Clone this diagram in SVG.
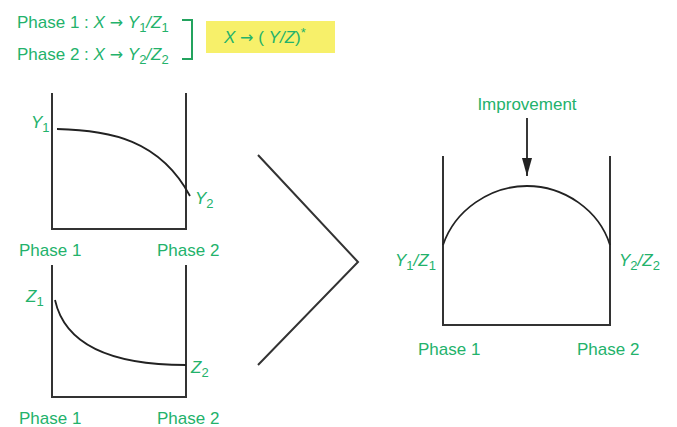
<svg xmlns="http://www.w3.org/2000/svg" width="677" height="427" viewBox="0 0 677 427">
<style>
.t{font-family:"Liberation Sans",Arial,sans-serif;font-size:17px;fill:#23b26b}
.s{font-size:13px}
.i{font-style:italic}
.a{font-family:"DejaVu Sans",sans-serif;font-size:16px}
.ax{fill:none;stroke:#333;stroke-width:2}
.cv{fill:none;stroke:#222;stroke-width:1.8}
</style>
<defs>
<marker id="ah" markerWidth="18" markerHeight="10" refX="18" refY="5" orient="auto" markerUnits="userSpaceOnUse">
<path d="M0,0 L18,5 L0,10 Z" fill="#222"/>
</marker>
</defs>
<rect width="677" height="427" fill="#fff"/>
<g id="formula">
<text class="t" x="17" y="28">Phase 1 : <tspan class="i">X</tspan> <tspan class="a">→</tspan> <tspan class="i">Y</tspan><tspan class="s" dy="4">1</tspan><tspan dy="-4" class="i">/Z</tspan><tspan class="s" dy="4">1</tspan></text>
<text class="t" x="17" y="60">Phase 2 : <tspan class="i">X</tspan> <tspan class="a">→</tspan> <tspan class="i">Y</tspan><tspan class="s" dy="4">2</tspan><tspan dy="-4" class="i">/Z</tspan><tspan class="s" dy="4">2</tspan></text>
<path d="M182,20 H192 V59 H182" fill="none" stroke="#23a35e" stroke-width="2"/>
<rect x="206" y="21" width="129" height="32" fill="#f7f06a"/>
<text class="t" x="224" y="43"><tspan class="i">X</tspan> <tspan class="a">→</tspan> ( <tspan class="i">Y/Z</tspan>)<tspan class="s" dy="-6">*</tspan></text>
</g>
<g id="chartY">
<path class="ax" d="M52,93 V229 H186 V93"/>
<path class="cv" d="M57,129 C110,130 160,140 190,196"/>
<text class="t" x="31" y="128"><tspan class="i">Y</tspan><tspan class="s" dy="4">1</tspan></text>
<text class="t" x="195" y="204"><tspan class="i">Y</tspan><tspan class="s" dy="4">2</tspan></text>
<text class="t" x="19" y="256">Phase 1</text>
<text class="t" x="157" y="256">Phase 2</text>
</g>
<g id="chartZ">
<path class="ax" d="M52,265 V397 H186 V265"/>
<path class="cv" d="M55,300 C65,345 110,365 186,365"/>
<text class="t" x="26" y="302"><tspan class="i">Z</tspan><tspan class="s" dy="4">1</tspan></text>
<text class="t" x="191" y="373"><tspan class="i">Z</tspan><tspan class="s" dy="4">2</tspan></text>
<text class="t" x="19" y="424">Phase 1</text>
<text class="t" x="157" y="424">Phase 2</text>
</g>
<g id="chevron">
<path d="M258,155 L358,262 L258,365" fill="none" stroke="#333" stroke-width="2"/>
</g>
<g id="chartYZ">
<path class="ax" d="M443,156 V325 H610 V156"/>
<path class="cv" d="M443,245 C455,210 490,186 527,186 C564,186 599,210 610,245"/>
<text class="t" x="395" y="266"><tspan class="i">Y</tspan><tspan class="s" dy="4">1</tspan><tspan dy="-4" class="i">/Z</tspan><tspan class="s" dy="4">1</tspan></text>
<text class="t" x="619" y="266"><tspan class="i">Y</tspan><tspan class="s" dy="4">2</tspan><tspan dy="-4" class="i">/Z</tspan><tspan class="s" dy="4">2</tspan></text>
<text class="t" x="418" y="355">Phase 1</text>
<text class="t" x="577" y="355">Phase 2</text>
<text class="t" x="527" y="110" text-anchor="middle">Improvement</text>
</g>
<g id="connectors">
<line x1="527" y1="118" x2="527" y2="176" stroke="#222" stroke-width="1.8" marker-end="url(#ah)"/>
</g>
</svg>
